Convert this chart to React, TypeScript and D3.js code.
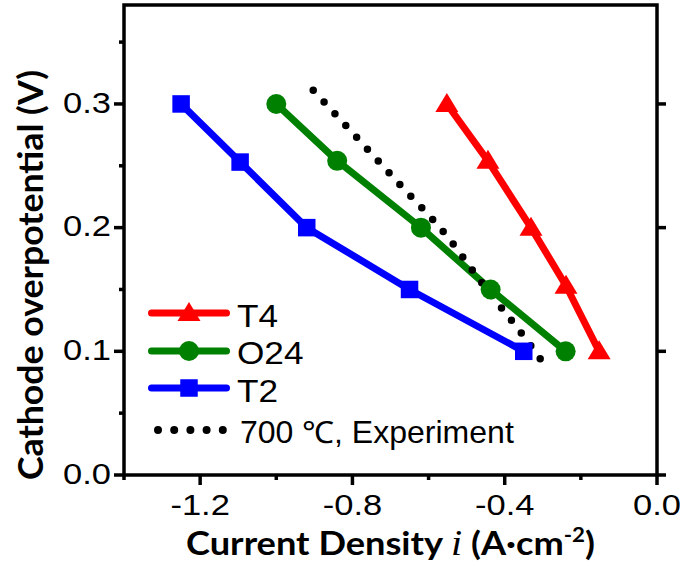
import React from 'react';
import * as d3 from 'd3';

// ---- data ----
const T4_X = [-0.552, -0.444, -0.331, -0.239, -0.152];
const T4_Y = [0.3, 0.254, 0.2, 0.153, 0.1];
const O24_X = [-1.0, -0.84, -0.62, -0.437, -0.24];
const O24_Y = [0.3, 0.254, 0.2, 0.15, 0.1];
const T2_X = [-1.25, -1.095, -0.92, -0.65, -0.35];
const T2_Y = [0.3, 0.253, 0.2, 0.15, 0.1];
const EXP_X = [-0.903, -0.786, -0.67, -0.554, -0.452, -0.347, -0.293];
const EXP_Y = [0.311, 0.272, 0.233, 0.194, 0.152, 0.111, 0.088];

const SERIES_NAMES = ['T4', 'O24', 'T2', '700 ℃, Experiment'];

const X_MAJOR = [-1.2, -0.8, -0.4, 0.0];
const X_MAJOR_LABELS = ['-1.2', '-0.8', '-0.4', '0.0'];
const X_MINOR = [-1.4, -1.0, -0.6, -0.2];
const Y_MAJOR = [0.0, 0.1, 0.2, 0.3];
const Y_MAJOR_LABELS = ['0.0', '0.1', '0.2', '0.3'];
const Y_MINOR = [0.05, 0.15, 0.25, 0.35];

const X_DOMAIN: [number, number] = [-1.4, 0];
const Y_DOMAIN: [number, number] = [0, 0.38];

const W = 680;
const H = 569;
const L = 124, R = 657, T = 5, B = 475;

const FONT = '"Liberation Sans", Arial, sans-serif';
const TITLE_FONT = 'Lato, "Open Sans", sans-serif';

function SText(props: { x: number; y: number; anchor?: string; size: number; sx?: number; children: any; fill?: string }) {
  const { x, y, anchor = 'start', size, sx = 1.12, children, fill = '#000' } = props;
  return (
    <text
      transform={`translate(${x},${y}) scale(${sx},1)`}
      textAnchor={anchor}
      fontFamily={FONT}
      fontSize={size}
      fill={fill}
    >
      {children}
    </text>
  );
}

function Marker({ type, x, y, color }: { type: string; x: number; y: number; color: string }) {
  if (type === 'tri') {
    const hw = 11.5;
    return <path d={`M${x},${y - 11} L${x + hw},${y + 8} L${x - hw},${y + 8} Z`} fill={color} />;
  }
  if (type === 'circ') return <circle cx={x} cy={y} r={10} fill={color} />;
  const s = 17.5;
  return <rect x={x - s / 2} y={y - s / 2} width={s} height={s} fill={color} />;
}

export default function App() {
  const x = d3.scaleLinear().domain(X_DOMAIN).range([L, R]);
  const y = d3.scaleLinear().domain(Y_DOMAIN).range([B, T]);

  const series = [
    { xs: T4_X, ys: T4_Y, color: '#ff0000', marker: 'tri' },
    { xs: O24_X, ys: O24_Y, color: '#008000', marker: 'circ' },
    { xs: T2_X, ys: T2_Y, color: '#0000ff', marker: 'sq' },
  ];

  const pathFor = (xs: number[], ys: number[], curve?: any) => {
    const pts: [number, number][] = xs.map((v, i) => [x(v), y(ys[i])]);
    const g = d3.line().curve(curve || d3.curveLinear);
    return g(pts) || '';
  };

  const expPath = pathFor(EXP_X, EXP_Y, d3.curveMonotoneX);

  const axisW = 3.5;

  const legendRows = [
    { y: 313, color: '#ff0000', marker: 'tri', text: SERIES_NAMES[0], ty: 326.5 },
    { y: 351, color: '#008000', marker: 'circ', text: SERIES_NAMES[1], ty: 364 },
    { y: 388, color: '#0000ff', marker: 'sq', text: SERIES_NAMES[2], ty: 402 },
  ];

  return (
    <svg
      width={W}
      height={H}
      viewBox={`0 0 ${W} ${H}`}
      style={{ position: 'absolute', left: 0, top: 0, background: '#fff' }}
    >
      <rect x={0} y={0} width={W} height={H} fill="#fff" />

      {/* series lines */}
      {series.map((s, i) => (
        <path key={'l' + i} d={pathFor(s.xs, s.ys)} fill="none" stroke={s.color} strokeWidth={7} strokeLinejoin="round" />
      ))}
      {/* experiment dotted */}
      <path d={expPath} fill="none" stroke="#000" strokeWidth={7.5} strokeLinecap="round" strokeDasharray="0 16" />
      {/* markers */}
      {series.map((s, i) =>
        s.xs.map((v, j) => <Marker key={'m' + i + '-' + j} type={s.marker} x={x(v)} y={y(s.ys[j])} color={s.color} />)
      )}

      {/* frame */}
      <rect x={L} y={T} width={R - L} height={B - T} fill="none" stroke="#000" strokeWidth={axisW} />

      {/* left ticks */}
      {Y_MAJOR.map((v, i) => (
        <line key={'ly' + i} x1={L - 10} x2={L} y1={y(v)} y2={y(v)} stroke="#000" strokeWidth={axisW} />
      ))}
      {Y_MINOR.map((v, i) => (
        <line key={'lym' + i} x1={L - 5} x2={L} y1={y(v)} y2={y(v)} stroke="#000" strokeWidth={axisW} />
      ))}
      {/* right ticks */}
      {Y_MAJOR.map((v, i) => (
        <line key={'ry' + i} x1={R} x2={R + 9} y1={y(v)} y2={y(v)} stroke="#000" strokeWidth={axisW} />
      ))}
      {/* bottom ticks */}
      {X_MAJOR.map((v, i) => (
        <line key={'bx' + i} x1={x(v)} x2={x(v)} y1={B} y2={B + 10} stroke="#000" strokeWidth={axisW} />
      ))}
      {X_MINOR.map((v, i) => (
        <line key={'bxm' + i} x1={x(v)} x2={x(v)} y1={B} y2={B + 5} stroke="#000" strokeWidth={axisW} />
      ))}

      {/* tick labels */}
      {Y_MAJOR.map((v, i) => (
        <SText key={'yl' + i} x={111} y={y(v) + 8.7} anchor="end" size={30} sx={1.15}>
          {Y_MAJOR_LABELS[i]}
        </SText>
      ))}
      {X_MAJOR.map((v, i) => (
        <SText key={'xl' + i} x={x(v)} y={515} anchor="middle" size={30} sx={1.15}>
          {X_MAJOR_LABELS[i]}
        </SText>
      ))}

      {/* axis titles */}
      <text
        x={390.5}
        y={555}
        textAnchor="middle"
        fontFamily={TITLE_FONT}
        fontWeight="bold"
        fontSize={32.5}
        textLength={409}
        lengthAdjust="spacingAndGlyphs"
      >
        Current Density{' '}
        <tspan fontFamily='"Liberation Serif", "Times New Roman", serif' fontStyle="italic" fontWeight="normal" fontSize={36}>
          i
        </tspan>{' '}
        (A·cm
        <tspan fontSize={20} dy={-13}>
          -2
        </tspan>
        <tspan dy={13}>)</tspan>
      </text>
      <text
        transform={`translate(43,275) rotate(-90)`}
        textAnchor="middle"
        fontFamily={TITLE_FONT}
        fontWeight="bold"
        fontSize={35}
        textLength={410}
        lengthAdjust="spacingAndGlyphs"
      >
        Cathode overpotential (V)
      </text>

      {/* legend */}
      {legendRows.map((r, i) => (
        <g key={'lg' + i}>
          <line x1={151.5} x2={226.5} y1={r.y} y2={r.y} stroke={r.color} strokeWidth={7} strokeLinecap="round" />
          <Marker type={r.marker} x={189} y={r.y} color={r.color} />
          <SText x={237} y={r.ty} size={32} sx={1.1}>
            {r.text}
          </SText>
        </g>
      ))}
      <line x1={158} x2={223} y1={430} y2={430} stroke="#000" strokeWidth={8} strokeLinecap="round" strokeDasharray="0 16.2" />
      <SText x={240} y={443.3} size={30.5} sx={1.05}>
        {SERIES_NAMES[3]}
      </SText>
    </svg>
  );
}
